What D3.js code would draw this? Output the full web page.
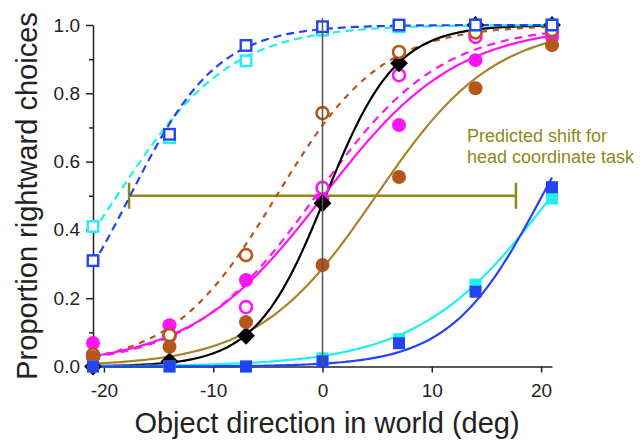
<!DOCTYPE html>
<html>
<head>
<meta charset="utf-8">
<script src="https://cdn.jsdelivr.net/npm/d3@7"></script>
<style>
  html, body { margin: 0; padding: 0; background: #fff; }
  svg { display: block; font-family: "Liberation Sans", Arial, Helvetica, sans-serif; }
</style>
</head>
<body>
<svg id="chart" width="643" height="441"></svg>
<script>
// Object direction (deg) at which each condition was tested
const directions = [-21, -14, -7, 0, 7, 14, 21];

// Proportion of rightward choices per condition
const blueOpen      = [0.31, 0.68, 0.94, 0.995, 1.0, 1.0, 1.0];
const cyanOpen      = [0.41, 0.67, 0.895, 0.985, 0.995, 1.0, 1.0];
const blueFilled    = [0.0, 0.0, 0.0, 0.015, 0.068, 0.219, 0.525];
const cyanFilled    = [0.0, 0.0, 0.0, 0.024, 0.08, 0.24, 0.492];
const blackDiamond  = [0.0, 0.015, 0.09, 0.478, 0.888, 1.0, 1.0];
const magentaFilled = [0.069, 0.121, 0.253, 0.49, 0.707, 0.897, 0.965];
const magentaOpen   = [0.03, 0.09, 0.174, 0.523, 0.853, 0.965, 0.98];
const brownOpen     = [0.035, 0.092, 0.326, 0.742, 0.921, 0.978, 0.985];
const brownFilled   = [0.028, 0.058, 0.13, 0.297, 0.555, 0.815, 0.941];

// Logistic psychometric fits: [centre (deg), spread (deg)]
const fitBlueOpen      = [-17.6, 4.0];
const fitCyanOpen      = [-18.8, 5.2];
const fitBlueFilled    = [20.1, 4.2];
const fitCyanFilled    = [21.0, 6.1];
const fitBlack         = [0.3, 3.2];
const fitMagentaFilled = [0.1, 6.1];
const fitMagentaOpen   = [-0.6, 5.7];
const fitBrownOpen     = [-4.2, 4.8];
const fitBrownFilled   = [4.9, 5.4];

// Predicted shift bracket (deg) drawn at the 50% level
const shiftRange = [-17.7, 17.7];
const shiftLevel = 0.5;
const shiftLabel = ["Predicted shift for", "head coordinate task"];

const xTicks = [-20, -10, 0, 10, 20];
const yTicks = [0, 0.2, 0.4, 0.6, 0.8, 1.0];
const yMinorTicks = [0.1, 0.3, 0.5, 0.7, 0.9];

const C = {
  blue: "#2443f4", cyan: "#1ff0ee", magenta: "#ff14f5",
  brown: "#b5561a", gold: "#a9822a", black: "#000", olive: "#8e8a18",
  axis: "#222", text: "#222"
};

const svg = d3.select("#chart");
const x = d3.scaleLinear().domain([-21, 21]).range([93, 552]);
const y = d3.scaleLinear().domain([0, 1]).range([366.5, 25]);

const logistic = (p) => (v) => 1 / (1 + Math.exp(-(v - p[0]) / p[1]));
const samples = d3.range(-21, 21.001, 0.25);
const line = d3.line().x(d => x(d[0])).y(d => y(d[1]));

// Axes
const gy = svg.append("g").attr("transform", `translate(${x(-21)},0)`)
  .call(d3.axisLeft(y).tickValues(yTicks).tickFormat(d3.format(".1f")).tickSize(7).tickSizeOuter(0).tickPadding(6));
svg.append("g").attr("transform", `translate(${x(-21)},0)`)
  .call(d3.axisLeft(y).tickValues(yMinorTicks).tickFormat("").tickSize(4).tickSizeOuter(0))
  .call(g => g.select(".domain").remove());
const gx = svg.append("g").attr("transform", `translate(0,${y(0)})`)
  .call(d3.axisBottom(x).tickValues(xTicks).tickFormat(d => String(d)).tickSize(6).tickSizeOuter(0).tickPadding(11));

svg.selectAll(".domain, .tick line").attr("stroke", C.axis).attr("stroke-width", 1.5);
gy.selectAll("text").attr("font-size", 19).attr("fill", C.text).attr("font-family", null);
gx.selectAll("text").attr("font-size", 19).attr("fill", C.text).attr("font-family", null);

// Axis titles
svg.append("text").attr("x", 327).attr("y", 433).attr("text-anchor", "middle")
  .attr("font-size", 29).attr("fill", C.text).text("Object direction in world (deg)");
svg.append("text").attr("transform", "translate(37,196) rotate(-90)").attr("text-anchor", "middle")
  .attr("font-size", 29).attr("fill", C.text).text("Proportion rightward choices");

// Predicted shift bracket
const bracket = svg.append("g").attr("stroke", C.olive).attr("stroke-width", 2.5);
bracket.append("line").attr("x1", x(shiftRange[0])).attr("x2", x(shiftRange[1]))
  .attr("y1", y(shiftLevel)).attr("y2", y(shiftLevel));
shiftRange.forEach(v => bracket.append("line").attr("x1", x(v)).attr("x2", x(v))
  .attr("y1", y(shiftLevel) - 13).attr("y2", y(shiftLevel) + 13));
svg.append("text").attr("x", 467).attr("y", 142).attr("font-size", 18).attr("fill", C.olive)
  .selectAll("tspan").data(shiftLabel).join("tspan")
  .attr("x", 467).attr("dy", (d, i) => i ? 21 : 0).text(d => d);

// Fitted curves
const fits = [
  { p: fitBrownFilled, color: C.gold, dash: null },
  { p: fitBrownOpen, color: C.brown, dash: "6,6" },
  { p: fitMagentaFilled, color: C.magenta, dash: null },
  { p: fitMagentaOpen, color: C.magenta, dash: "8,6" },
  { p: fitBlack, color: C.black, dash: null },
  { p: fitCyanFilled, color: C.cyan, dash: null },
  { p: fitBlueFilled, color: C.blue, dash: null },
  { p: fitCyanOpen, color: C.cyan, dash: "8,5" },
  { p: fitBlueOpen, color: C.blue, dash: "8,5" }
];
svg.append("g").selectAll("path").data(fits).join("path")
  .attr("d", f => line(samples.map(v => [v, logistic(f.p)(v)])))
  .attr("fill", "none").attr("stroke", f => f.color).attr("stroke-width", 2.2)
  .attr("stroke-dasharray", f => f.dash);

// Markers
const pts = (vals) => directions.map((d, i) => [d, vals[i]]);
const marks = svg.append("g");
function circles(vals, color, open) {
  marks.append("g").selectAll("circle").data(pts(vals)).join("circle")
    .attr("cx", d => x(d[0])).attr("cy", d => y(d[1]))
    .attr("r", open ? 6 : 7)
    .attr("fill", open ? "#fff" : color)
    .attr("stroke", open ? color : "none").attr("stroke-width", 2.6);
}
function squares(vals, color, open) {
  const s = open ? 10.5 : 12;
  marks.append("g").selectAll("rect").data(pts(vals)).join("rect")
    .attr("x", d => x(d[0]) - s / 2).attr("y", d => y(d[1]) - s / 2)
    .attr("width", s).attr("height", s)
    .attr("fill", open ? "#fff" : color)
    .attr("stroke", open ? color : "none").attr("stroke-width", 2.4);
}
function diamonds(vals, color) {
  marks.append("g").selectAll("path").data(pts(vals)).join("path")
    .attr("d", d3.symbol(d3.symbolSquare, 160))
    .attr("transform", d => `translate(${x(d[0])},${y(d[1])}) rotate(45)`)
    .attr("fill", color);
}
circles(magentaFilled, C.magenta, false);
circles(magentaOpen, C.magenta, true);
diamonds(blackDiamond, C.black);
circles(brownOpen, C.brown, true);
circles(brownFilled, C.brown, false);
squares(cyanFilled, C.cyan, false);
squares(blueFilled, C.blue, false);
squares(cyanOpen, C.cyan, true);
squares(blueOpen, C.blue, true);

// Zero-direction reference line
svg.append("line").attr("x1", x(0)).attr("x2", x(0)).attr("y1", 18).attr("y2", y(0))
  .attr("stroke", "#555").attr("stroke-width", 1.5);
</script>
</body>
</html>
